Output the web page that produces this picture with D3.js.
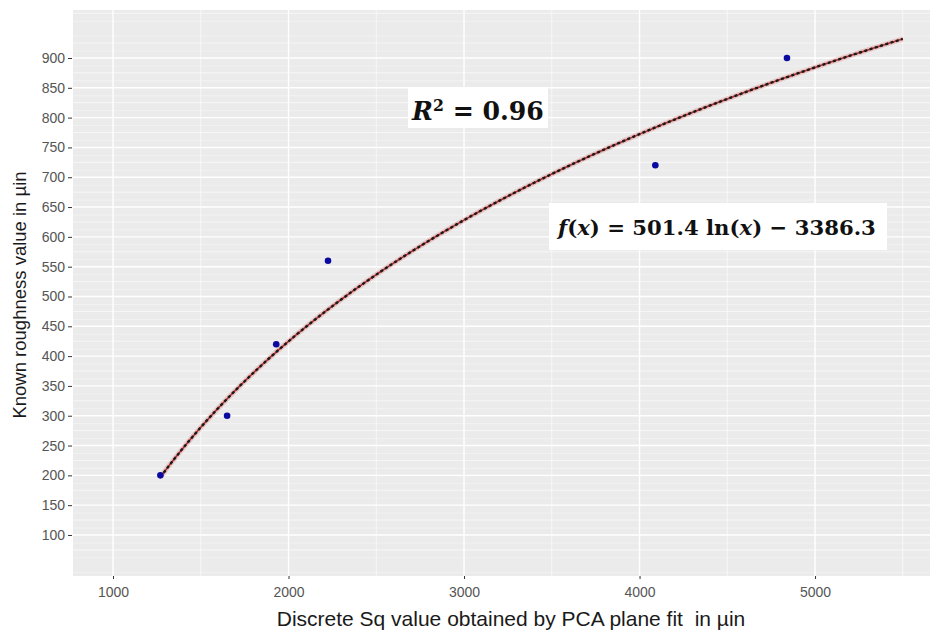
<!DOCTYPE html>
<html>
<head>
<meta charset="utf-8">
<script src="https://cdn.jsdelivr.net/npm/d3@7"></script>
<style>
  body { margin: 0; background: #fff; }
  svg { display: block; }
</style>
</head>
<body>
<svg id="chart" width="930" height="632"></svg>
<script>
// Measured samples: discrete Sq (PCA plane fit) vs known roughness, µin
const sqValues = [1270, 1650, 1930, 2225, 4090, 4840];
const knownRoughness = [200, 300, 420, 560, 720, 900];

// Logarithmic fit f(x) = a ln(x) + b
const fitA = 501.4;
const fitB = -3386.3;
const fitRange = [1270, 5500];
const rSquared = "0.96";

const xTicks = [1000, 2000, 3000, 4000, 5000];
const xMinor = [1500, 2500, 3500, 4500, 5500];
const yTicks = d3.range(100, 901, 50);
const yMinor = d3.range(75, 976, 50);

const panel = { left: 73, top: 10, right: 930, bottom: 576 };

const svg = d3.select("#chart");

const x = d3.scaleLinear().domain([772, 5655]).range([panel.left, panel.right]);
const y = d3.scaleLinear().domain([31.2, 980.5]).range([panel.bottom, panel.top]);

// panel background
svg.append("rect")
  .attr("x", panel.left).attr("y", panel.top)
  .attr("width", panel.right - panel.left).attr("height", panel.bottom - panel.top)
  .attr("fill", "#ebebeb");

const grid = svg.append("g");
// faint secondary grid lines
grid.selectAll(".faint").data(d3.range(37.5, 980, 25)).join("line")
  .attr("x1", panel.left).attr("x2", panel.right)
  .attr("y1", d => y(d) + 0.5).attr("y2", d => y(d) + 0.5)
  .attr("stroke", "#f6f6f6").attr("stroke-width", 0.6);
grid.selectAll(".ymin").data(yMinor).join("line")
  .attr("x1", panel.left).attr("x2", panel.right)
  .attr("y1", d => y(d)).attr("y2", d => y(d))
  .attr("stroke", "#fafafa").attr("stroke-width", 0.8);
grid.selectAll(".xmin").data(xMinor).join("line")
  .attr("y1", panel.top).attr("y2", panel.bottom)
  .attr("x1", d => x(d)).attr("x2", d => x(d))
  .attr("stroke", "#fafafa").attr("stroke-width", 0.8);
grid.selectAll(".ymaj").data(yTicks).join("line")
  .attr("x1", panel.left).attr("x2", panel.right)
  .attr("y1", d => y(d)).attr("y2", d => y(d))
  .attr("stroke", "#ffffff").attr("stroke-width", 1.4);
grid.selectAll(".xmaj").data(xTicks).join("line")
  .attr("y1", panel.top).attr("y2", panel.bottom)
  .attr("x1", d => x(d)).attr("x2", d => x(d))
  .attr("stroke", "#ffffff").attr("stroke-width", 1.4);

// axes
const xAxis = d3.axisBottom(x).tickValues(xTicks).tickSize(3).tickPadding(8).tickFormat(d3.format("d"));
const yAxis = d3.axisLeft(y).tickValues(yTicks).tickSize(4).tickPadding(3).tickFormat(d3.format("d"));

const gx = svg.append("g").attr("transform", `translate(0,${panel.bottom})`).call(xAxis);
const gy = svg.append("g").attr("transform", `translate(${panel.left - 1},0)`).call(yAxis);
[gx, gy].forEach(g => {
  g.attr("font-size", null);
  g.select(".domain").remove();
  g.selectAll(".tick line").attr("stroke", "#333").attr("stroke-width", 1);
  g.selectAll(".tick text")
    .attr("fill", "#555")
    .style("font-family", "'Liberation Sans', Arial, sans-serif")
    .style("font-size", "14px");
});

// fitted curve
const curveX = d3.range(fitRange[0], fitRange[1] + 1, 10);
const fitLine = d3.line()
  .x(d => x(d))
  .y(d => y(fitA * Math.log(d) + fitB));
const fitG = svg.append("g").attr("fill", "none");
fitG.append("path").datum(curveX).attr("d", fitLine)
  .attr("stroke", "#e7a0a0").attr("stroke-width", 5).attr("stroke-opacity", 0.55);
fitG.append("path").datum(curveX).attr("d", fitLine)
  .attr("stroke", "#a83030").attr("stroke-width", 1.6);
fitG.append("path").datum(curveX).attr("d", fitLine)
  .attr("stroke", "#1a1a1a").attr("stroke-width", 2.4).attr("stroke-dasharray", "3,2.5");

// sample points
svg.append("g").selectAll("circle").data(sqValues).join("circle")
  .attr("cx", d => x(d))
  .attr("cy", (d, i) => y(knownRoughness[i]))
  .attr("r", 3.3)
  .attr("fill", "#0a0aa0");

// annotations
const mathFont = "'DejaVu Serif', 'Liberation Serif', serif";

function labelBox(bx, by, bw, bh) {
  svg.append("rect").attr("x", bx).attr("y", by).attr("width", bw).attr("height", bh).attr("fill", "#fff");
}

function fitText(t, width) {
  const w = t.node().getComputedTextLength();
  if (w > 0) {
    const s = width / w;
    const fs = parseFloat(t.style("font-size")) * s;
    t.style("font-size", fs + "px");
    t.selectAll("tspan").each(function () {
      const ts = d3.select(this);
      const own = this.style.fontSize;
      if (own) ts.style("font-size", parseFloat(own) * s + "px");
      const dy = ts.attr("dy");
      if (dy) ts.attr("dy", parseFloat(dy) * s);
    });
  }
}

labelBox(408, 88, 140, 40);
const r2 = svg.append("text")
  .attr("x", 412).attr("y", 120)
  .style("font-family", mathFont).style("font-weight", "bold").style("font-size", "24px")
  .attr("fill", "#111");
r2.append("tspan").style("font-style", "italic").text("R");
r2.append("tspan").attr("dy", -9).style("font-size", "15px").text("2");
r2.append("tspan").attr("dy", 9).text(" = " + rSquared);
fitText(r2, 132);

labelBox(549, 203, 338, 47);
const fx = svg.append("text")
  .attr("x", 558).attr("y", 235)
  .style("font-family", mathFont).style("font-weight", "bold").style("font-size", "22px")
  .attr("fill", "#111");
fx.append("tspan").style("font-style", "italic").text("f");
fx.append("tspan").text("(");
fx.append("tspan").style("font-style", "italic").text("x");
fx.append("tspan").text(`) = ${fitA} ln(`);
fx.append("tspan").style("font-style", "italic").text("x");
fx.append("tspan").text(`) \u2212 ${Math.abs(fitB)}`);
fitText(fx, 318);

// axis titles
svg.append("text")
  .attr("x", 511).attr("y", 626)
  .attr("text-anchor", "middle")
  .style("font-family", "'Liberation Sans', Arial, sans-serif").style("font-size", "21px")
  .attr("fill", "#1a1a1a")
  .text("Discrete Sq value obtained by PCA plane fit\u00a0 in \u00b5in");

svg.append("text")
  .attr("transform", "translate(26,295) rotate(-90)")
  .attr("text-anchor", "middle")
  .style("font-family", "'Liberation Sans', Arial, sans-serif").style("font-size", "18.5px")
  .attr("fill", "#1a1a1a")
  .text("Known roughness value in \u00b5in");
</script>
</body>
</html>
